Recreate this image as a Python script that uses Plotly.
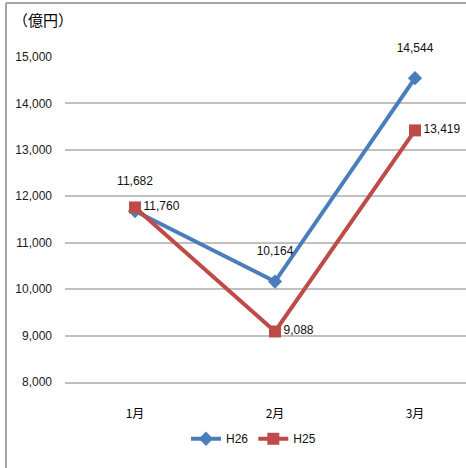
import plotly.graph_objects as go

categories = ["1月", "2月", "3月"]
h26 = [11682, 10164, 14544]
h25 = [11760, 9088, 13419]
y_ticks = [8000, 9000, 10000, 11000, 12000, 13000, 14000, 15000]

W, H = 466, 468
L, R, T, B = 65, 0, 57, 86
pw, ph = W - L - R, H - T - B
xs = list(range(len(categories)))
fnt = "Liberation Sans, Arial, sans-serif"

fig = go.Figure()
fig.add_trace(go.Scatter(
    x=xs, y=h26, name="H26", mode="lines+markers+text",
    line=dict(color="#4A7EBB", width=4),
    marker=dict(symbol="diamond", size=11, color="#4A7EBB"),
    text=[f"{v:,}<br> " for v in h26], textposition="top center",
    textfont=dict(family=fnt, size=12, color="#111111"),
    cliponaxis=False,
))
fig.add_trace(go.Scatter(
    x=xs, y=h25, name="H25", mode="lines+markers+text",
    line=dict(color="#BE4B48", width=4),
    marker=dict(symbol="square", size=12, color="#BE4B48"),
    text=[f"{v:,}" for v in h25], textposition="middle right",
    textfont=dict(family=fnt, size=12, color="#111111"),
    cliponaxis=False,
))

x_left = -0.5
x_right = x_left + pw / 140.0
fig.update_layout(
    width=W, height=H,
    margin=dict(l=L, r=R, t=T, b=B, pad=0),
    paper_bgcolor="white", plot_bgcolor="white",
    showlegend=True,
    legend=dict(orientation="h", x=0.47, xanchor="center", y=-0.13, yanchor="top",
                font=dict(family=fnt, size=12, color="#111111"),
                itemwidth=30, tracegroupgap=0),
    xaxis=dict(range=[x_left, x_right], tickvals=xs, ticktext=categories,
               showgrid=False, zeroline=False, showline=True, linecolor="#BDBDBD",
               linewidth=2, ticks="", ticklabelstandoff=20,
               tickfont=dict(family="Noto Sans CJK JP", size=12, color="#000000")),
    yaxis=dict(range=[8000, 15000], tickvals=y_ticks, tickformat=",d",
               showgrid=True, gridcolor="#C0C0C0", gridwidth=2,
               zeroline=False, showline=False, ticks="", ticklabelstandoff=12,
               tickfont=dict(family=fnt, size=12, color="#1a1a1a")),
    font=dict(family=fnt),
)

fig.add_annotation(text="（億円）", xref="paper", yref="paper",
                   x=(11 - L) / pw, y=(H - B - 20) / ph, xanchor="left", yanchor="middle",
                   showarrow=False, font=dict(family="Noto Sans CJK JP", size=15, color="#000000"))

gray = "#A6A6A6"
fig.add_shape(type="line", xref="paper", yref="paper",
              x0=(6 - L) / pw, x1=(6 - L) / pw, y0=(H - B - 3) / ph, y1=(H - B - H) / ph,
              line=dict(color=gray, width=2))
fig.add_shape(type="line", xref="paper", yref="paper",
              x0=(6 - L) / pw, x1=1.0, y0=(H - B - 3) / ph, y1=(H - B - 3) / ph,
              line=dict(color=gray, width=2))

fig.write_html("out.html", config={"displayModeBar": False},
               post_script="document.body.style.margin='0';document.body.style.overflow='hidden';")
